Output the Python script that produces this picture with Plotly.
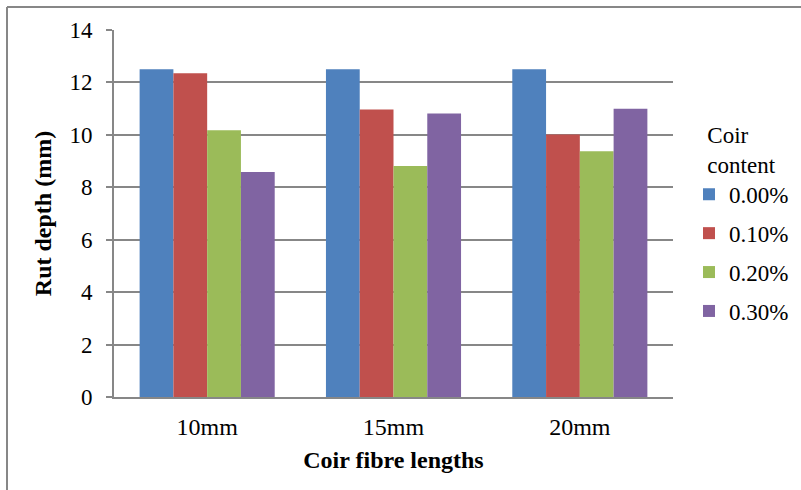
import plotly.graph_objects as go

# Rut depth by coir fibre length, grouped by coir content
fibre_lengths = ["10mm", "15mm", "20mm"]
coir_content = ["0.00%", "0.10%", "0.20%", "0.30%"]
rut_0_00 = [12.5, 12.5, 12.5]
rut_0_10 = [12.35, 10.97, 10.01]
rut_0_20 = [10.18, 8.81, 9.37]
rut_0_30 = [8.58, 10.81, 11.0]
series = [rut_0_00, rut_0_10, rut_0_20, rut_0_30]
colors = ["#4F81BD", "#C0504D", "#9BBB59", "#8064A2"]
y_ticks = [0, 2, 4, 6, 8, 10, 12, 14]

serif = "Liberation Serif"
grid = "#878787"

fig = go.Figure()
for name, vals, col in zip(coir_content, series, colors):
    fig.add_trace(go.Bar(
        x=fibre_lengths, y=vals, name=name, legendgroup=name,
        marker=dict(color=col, line=dict(width=0)),
    ))

W, H = 801, 490
ml, mr, mt, mb = 114, 128, 30, 93
pw = W - ml - mr
ph = H - mt - mb

fig.update_layout(
    width=W, height=H,
    margin=dict(l=ml, r=mr, t=mt, b=mb, autoexpand=False),
    paper_bgcolor="white", plot_bgcolor="white",
    barmode="group", bargap=0.275, bargroupgap=0,
    font=dict(family=serif, size=24, color="black"),
    xaxis=dict(
        title=dict(text="<b>Coir fibre lengths</b>", font=dict(family=serif, size=24), standoff=12),
        showline=True, linecolor=grid, linewidth=2,
        ticks="", showgrid=False, tickfont=dict(family=serif, size=24),
        ticklabelstandoff=7,
    ),
    yaxis=dict(
        title=dict(text="<b>Rut depth (mm)</b>", font=dict(family=serif, size=24), standoff=11),
        range=[0, 14], tickvals=y_ticks,
        showline=True, linecolor=grid, linewidth=2,
        ticks="outside", ticklen=6, tickcolor=grid, tickwidth=2,
        showgrid=True, gridcolor=grid, gridwidth=2,
        zeroline=False, tickfont=dict(family=serif, size=23),
        ticklabelstandoff=9,
    ),
    legend=dict(
        title=dict(text="Coir<br>content", side="top center", font=dict(family=serif, size=23)),
        xref="container", yref="container",
        x=689 / W, xanchor="left",
        y=1 - 113 / H, yanchor="top",
        font=dict(family=serif, size=23), tracegroupgap=6,
        itemwidth=30, bgcolor="rgba(0,0,0,0)",
    ),
    shapes=[
        dict(type="line", xref="paper", yref="paper",
             x0=(7 - ml) / pw, x1=(7 - ml) / pw,
             y0=1 + (mt - 7) / ph, y1=-(mb + 5) / ph,
             line=dict(color=grid, width=2)),
        dict(type="line", xref="paper", yref="paper",
             x0=(7 - ml) / pw, x1=(W + 5 - ml) / pw,
             y0=1 + (mt - 7) / ph, y1=1 + (mt - 7) / ph,
             line=dict(color=grid, width=2)),
    ],
)

fig.write_html("out.html")
